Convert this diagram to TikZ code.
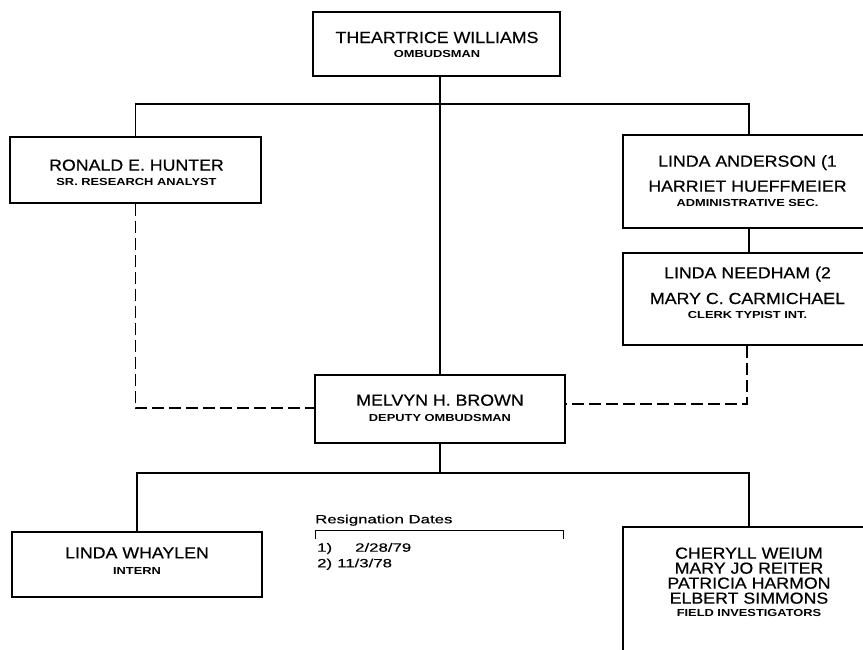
\documentclass[tikz,border=0pt]{standalone}
\usepackage{fontspec}
\setmainfont{Liberation Sans}
\newfontfamily\namef[FakeStretch=1.11,FakeBold=0.5]{Liberation Sans}
\newfontfamily\titlef[FakeStretch=1.26]{Liberation Sans}
\newfontfamily\resf[FakeStretch=1.4,FakeBold=0.4]{Liberation Sans}
\begin{document}
\begin{tikzpicture}[x=1pt,y=-1pt,
  box/.style={draw,line width=1.6pt,rectangle,inner sep=0pt},
  nm/.style={font=\namef\fontsize{16}{16}\selectfont,anchor=base,inner sep=0pt},
  tt/.style={font=\titlef\bfseries\fontsize{10.2}{12}\selectfont,anchor=base,inner sep=0pt},
  rs/.style={font=\resf\fontsize{12}{14}\selectfont,anchor=base west,inner sep=0pt},
  ln/.style={line width=1.2pt},
  dl/.style={line width=1.2pt,dash pattern=on 12pt off 5pt}]
\useasboundingbox (0,0) rectangle (863,649);
\clip (0,0) rectangle (863,649);
\fill[white] (0,0) rectangle (863,649);

% boxes
\node[box,minimum width=247pt,minimum height=64pt] (top) at (436.5,44) {};
\node[box,minimum width=251pt,minimum height=66pt] (ron) at (135.5,170) {};
\node[box,minimum width=252pt,minimum height=93pt] (and) at (749,181.5) {};
\node[box,minimum width=252pt,minimum height=92pt] (need) at (749,299) {};
\node[box,minimum width=250pt,minimum height=68pt] (mel) at (440,409) {};
\node[box,minimum width=250pt,minimum height=65pt] (wha) at (137,564.5) {};
\node[box,minimum width=252pt,minimum height=138pt] (fld) at (749,596) {};

% texts
\node[nm] (top-n) at (437,43) {THEARTRICE WILLIAMS};
\node[tt] (top-t) at (437,57) {OMBUDSMAN};
\node[nm] (ron-n) at (136.5,170.7) {RONALD E. HUNTER};
\node[tt] (ron-t) at (136.5,185.7) {SR. RESEARCH ANALYST};
\node[nm] (and-n1) at (747.5,166.7) {LINDA ANDERSON (1};
\node[nm] (and-n2) at (747.5,191.7) {HARRIET HUEFFMEIER};
\node[tt] (and-t) at (747.5,206.7) {ADMINISTRATIVE SEC.};
\node[nm] (need-n1) at (747.5,278.3) {LINDA NEEDHAM (2};
\node[nm] (need-n2) at (747.5,304) {MARY C. CARMICHAEL};
\node[tt] (need-t) at (747.5,318.3) {CLERK TYPIST INT.};
\node[nm] (mel-n) at (440,405.7) {MELVYN H. BROWN};
\node[tt] (mel-t) at (440,421.7) {DEPUTY OMBUDSMAN};
\node[nm] (wha-n) at (137,558.3) {LINDA WHAYLEN};
\node[tt] (wha-t) at (137,574) {INTERN};
\node[align=center,inner sep=0pt,anchor=north,
      font=\namef\fontsize{16}{15}\selectfont] (fld-txt) at (749,547.3)
  {CHERYLL WEIUM\\MARY JO REITER\\PATRICIA HARMON\\ELBERT SIMMONS\\[-2pt]
   {\titlef\bfseries\fontsize{10.2}{12}\selectfont FIELD INVESTIGATORS}};

% resignation note
\node[rs] (rd) at (315,523.3) {Resignation Dates};
\node[rs] (r1) at (317,551.7) {1)};
\node[rs] (d1) at (355,551.7) {2/28/79};
\node[rs] (r2) at (317,567.3) {2)};
\node[rs] (d2) at (337,567.3) {11/3/78};
\coordinate (bl) at (315,539);
\coordinate (bt) at (563,530);
\coordinate (br) at (563,539);
\draw[line width=1pt] (bl) |- (bt) -- (br);

% connectors
\coordinate (j1) at (440,104);
\coordinate (j2) at (440,473);
\draw[ln] (top.south -| mel.north) -- (mel.north);
\draw[ln] (ron.north) |- (j1) -| (and.north);
\draw[ln] (and.south) -- (need.north);
\draw[dl] (ron.south) |- ([yshift=1pt]mel.west);
\draw[dl] ([xshift=-2pt]need.south) |- ([yshift=5pt]mel.east);
\draw[ln] (mel.south) -- (j2);
\draw[ln] (wha.north) |- (j2) -| (fld.north);
\end{tikzpicture}
\end{document}
